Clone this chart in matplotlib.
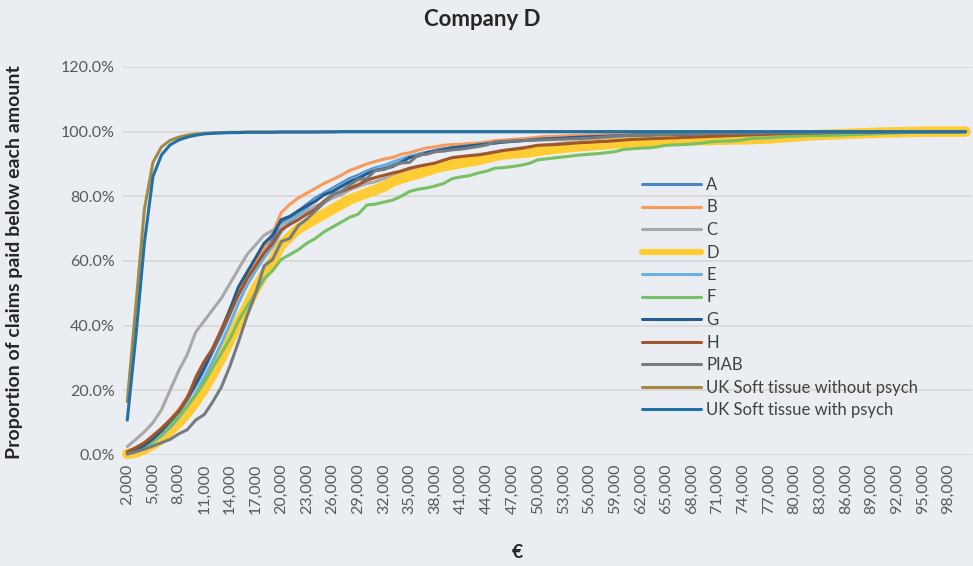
import matplotlib
matplotlib.use("Agg")
import matplotlib.pyplot as plt
from matplotlib.ticker import PercentFormatter

plt.rcParams['font.family'] = ['Lato', 'DejaVu Sans']

amounts = list(range(2000, 100001, 1000))
tick_labels = [f"{a:,}" for a in amounts]

A = [0.5, 1.3, 2.8, 4.8, 7.0, 10.0, 13.0, 17.0, 21.5, 26.5,
     32.0, 37.5, 43.5, 50.0, 55.0, 59.5, 64.0, 67.0, 72.0, 73.5,
     75.5, 77.5, 79.5, 81.0, 82.5, 84.0, 85.5, 86.5, 87.8, 88.8,
     89.5, 90.5, 91.5, 92.3, 93.0, 93.6, 94.2, 94.7, 95.1, 95.5,
     95.8, 96.1, 96.4, 96.7, 97.0, 97.2, 97.4, 97.6, 97.8, 98.0,
     98.1, 98.2, 98.3, 98.4, 98.5, 98.6, 98.7, 98.8, 98.9, 99.0,
     99.0, 99.1, 99.1, 99.2, 99.2, 99.3, 99.3, 99.4, 99.4, 99.5,
     99.5, 99.5, 99.6, 99.6, 99.6, 99.7, 99.7, 99.7, 99.8, 99.8,
     99.8, 99.8, 99.9, 99.9, 99.9, 99.9, 99.9, 99.9, 100, 100,
     100, 100, 100, 100, 100, 100, 100, 100, 100]

B = [0.8, 2.0, 3.5, 5.5, 8.0, 11.0, 14.0, 18.0, 22.5, 27.5,
     33.0, 39.0, 45.0, 50.5, 55.0, 59.5, 64.0, 68.5, 75.0, 77.5,
     79.5, 81.0, 82.5, 84.0, 85.2, 86.5, 88.0, 89.0, 90.0, 90.8,
     91.5, 92.0, 93.0, 93.5, 94.3, 95.0, 95.3, 95.8, 96.0, 96.1,
     96.3, 96.5, 96.8, 97.2, 97.4, 97.6, 97.8, 98.0, 98.3, 98.5,
     98.6, 98.7, 98.8, 98.9, 99.0, 99.0, 99.1, 99.2, 99.2, 99.3,
     99.3, 99.4, 99.4, 99.5, 99.5, 99.5, 99.6, 99.6, 99.6, 99.7,
     99.7, 99.7, 99.8, 99.8, 99.8, 99.8, 99.9, 99.9, 99.9, 99.9,
     99.9, 99.9, 99.9, 100, 100, 100, 100, 100, 100, 100,
     100, 100, 100, 100, 100, 100, 100, 100, 100]

C = [2.6, 4.8, 7.2, 10.0, 14.0, 20.0, 26.0, 31.0, 38.0, 41.5,
     45.0, 48.5, 53.0, 57.5, 62.0, 65.0, 68.0, 69.5, 71.0, 72.5,
     74.0, 75.5, 77.0, 78.0, 79.5, 80.5, 82.0, 83.0, 84.0, 84.5,
     85.5, 86.3, 87.0, 88.0, 88.7, 89.3, 89.8, 90.5, 91.2, 91.8,
     92.3, 92.8, 93.3, 93.8, 94.2, 94.6, 95.0, 95.3, 95.6, 95.9,
     96.2, 96.5, 96.7, 96.9, 97.1, 97.3, 97.5, 97.7, 97.8, 98.0,
     98.1, 98.2, 98.3, 98.4, 98.5, 98.6, 98.7, 98.8, 98.9, 99.0,
     99.0, 99.1, 99.2, 99.2, 99.3, 99.3, 99.4, 99.4, 99.5, 99.5,
     99.6, 99.6, 99.7, 99.7, 99.7, 99.8, 99.8, 99.8, 99.9, 99.9,
     99.9, 99.9, 100, 100, 100, 100, 100, 100, 100]

D = [0.3, 0.8, 1.8, 3.2, 5.0, 7.5, 10.0, 13.0, 16.5, 20.5,
     25.0, 30.0, 35.5, 41.0, 46.0, 51.5, 56.0, 60.0, 65.0, 67.5,
     70.0, 71.5, 73.0, 74.5, 76.0, 77.5, 79.0, 80.0, 81.0, 82.0,
     83.0, 84.5, 85.5, 86.3, 87.0, 87.8, 88.7, 89.3, 89.8, 90.3,
     90.7, 91.2, 91.8, 92.5, 93.0, 93.2, 93.4, 93.6, 94.0, 94.4,
     94.7, 95.0, 95.3, 95.5, 95.7, 95.9, 96.1, 96.3, 96.5, 96.7,
     96.8, 96.9, 97.0, 97.1, 97.2, 97.3, 97.3, 97.4, 97.4, 97.5,
     97.5, 97.6, 97.6, 97.7, 97.8, 97.9, 98.1, 98.3, 98.5, 98.7,
     98.9, 99.0, 99.1, 99.2, 99.3, 99.4, 99.5, 99.6, 99.7, 99.8,
     99.8, 99.9, 99.9, 100, 100, 100, 100, 100, 100]

E = [0.3, 1.0, 2.2, 4.0, 6.0, 8.5, 11.5, 15.0, 19.0, 24.0,
     29.0, 34.5, 40.5, 47.0, 52.5, 57.0, 61.0, 64.5, 69.0, 72.0,
     74.5, 76.5, 79.0, 80.5, 82.0, 83.5, 85.0, 86.0, 87.5, 88.5,
     89.5, 90.5, 91.5, 92.3, 93.0, 93.6, 94.0, 94.5, 94.9, 95.3,
     95.6, 95.9, 96.2, 96.5, 96.8, 97.0, 97.2, 97.4, 97.6, 97.8,
     97.9, 98.0, 98.1, 98.2, 98.3, 98.4, 98.5, 98.6, 98.7, 98.8,
     98.9, 99.0, 99.0, 99.1, 99.1, 99.2, 99.2, 99.3, 99.3, 99.4,
     99.4, 99.5, 99.5, 99.5, 99.6, 99.6, 99.6, 99.7, 99.7, 99.7,
     99.8, 99.8, 99.8, 99.8, 99.9, 99.9, 99.9, 99.9, 99.9, 100,
     100, 100, 100, 100, 100, 100, 100, 100, 100]

F = [0.5, 1.2, 2.5, 4.3, 6.5, 9.0, 12.0, 15.0, 18.5, 22.5,
     27.0, 31.5, 36.0, 41.5, 46.0, 50.0, 54.5, 57.0, 60.5, 62.0,
     63.5, 65.5, 67.0, 69.0, 70.5, 72.0, 73.5, 74.5, 77.3, 77.6,
     78.2, 78.8, 80.0, 81.5, 82.2, 82.6, 83.2, 84.0, 85.5, 86.0,
     86.4, 87.2, 87.8, 88.7, 88.9, 89.2, 89.6, 90.2, 91.3, 91.6,
     91.9, 92.2, 92.5, 92.8, 93.0, 93.2, 93.5, 93.8, 94.5, 94.7,
     94.9, 95.0, 95.3, 95.8, 95.9, 96.0, 96.2, 96.4, 96.8, 97.0,
     97.1, 97.2, 97.5, 97.9, 98.0, 98.1, 98.3, 98.5, 98.6, 98.7,
     98.8, 98.8, 98.9, 98.9, 99.0, 99.1, 99.2, 99.3, 99.4, 99.5,
     99.6, 99.7, 99.8, 99.8, 99.9, 99.9, 100, 100, 100]

G = [0.5, 1.5, 3.0, 5.0, 7.5, 10.5, 13.5, 17.5, 22.0, 27.0,
     33.0, 38.5, 45.0, 52.0, 56.5, 61.0, 65.5, 68.0, 72.8, 73.8,
     75.5, 77.0, 78.5, 80.5, 81.5, 83.0, 84.5, 85.5, 87.0, 88.0,
     88.5, 89.2, 90.5, 92.0, 92.5, 93.5, 94.0, 94.5, 95.0, 95.3,
     95.6, 95.9, 96.2, 96.5, 96.8, 97.0, 97.2, 97.4, 97.6, 97.8,
     97.9, 98.0, 98.2, 98.3, 98.4, 98.5, 98.6, 98.7, 98.8, 98.9,
     99.0, 99.0, 99.1, 99.1, 99.2, 99.2, 99.3, 99.3, 99.4, 99.4,
     99.5, 99.5, 99.5, 99.6, 99.6, 99.6, 99.7, 99.7, 99.7, 99.8,
     99.8, 99.8, 99.8, 99.9, 99.9, 99.9, 99.9, 99.9, 100, 100,
     100, 100, 100, 100, 100, 100, 100, 100, 100]

H = [1.0, 2.3, 3.8, 6.0, 8.3, 10.8, 13.5, 17.5, 24.0, 29.0,
     33.0, 38.5, 44.0, 49.5, 54.5, 58.5, 62.5, 65.5, 69.7, 71.3,
     72.8, 74.5, 76.0, 78.5, 80.5, 81.5, 82.5, 83.6, 85.0, 85.8,
     86.5, 87.2, 87.8, 88.7, 89.3, 89.8, 90.3, 91.2, 92.0, 92.3,
     92.6, 92.8, 93.2, 93.7, 94.2, 94.5, 94.8, 95.3, 95.8, 95.9,
     96.0, 96.2, 96.4, 96.6, 96.7, 96.9, 97.0, 97.2, 97.4, 97.6,
     97.7, 97.8, 97.9, 98.0, 98.1, 98.2, 98.3, 98.4, 98.5, 98.6,
     98.7, 98.8, 98.9, 99.0, 99.1, 99.2, 99.3, 99.4, 99.5, 99.5,
     99.6, 99.6, 99.7, 99.7, 99.8, 99.8, 99.8, 99.9, 99.9, 99.9,
     100, 100, 100, 100, 100, 100, 100, 100, 100]

PIAB = [0.3, 1.0, 1.8, 2.8, 3.8, 4.8, 6.5, 7.8, 10.8, 12.5,
        16.5, 21.0, 27.5, 35.0, 43.0, 50.0, 58.5, 60.5, 66.0, 67.0,
        71.0, 73.0, 75.5, 78.0, 80.5, 81.5, 83.5, 85.2, 85.5, 88.0,
        88.3, 89.5, 90.3, 90.5, 92.8, 93.0, 93.8, 94.0, 94.4, 94.6,
        95.0, 95.4, 95.9, 96.8, 97.0, 97.1, 97.2, 97.3, 97.4, 97.5,
        97.6, 97.7, 97.8, 97.9, 98.0, 98.2, 98.4, 98.6, 98.8, 98.9,
        99.0, 99.0, 99.1, 99.1, 99.2, 99.3, 99.3, 99.4, 99.4, 99.5,
        99.5, 99.5, 99.6, 99.6, 99.6, 99.7, 99.7, 99.7, 99.8, 99.8,
        99.8, 99.8, 99.9, 99.9, 99.9, 99.9, 99.9, 100, 100, 100,
        100, 100, 100, 100, 100, 100, 100, 100, 100]

UK_without = [16.5, 46.0, 76.0, 90.5, 95.3, 97.3, 98.3, 98.9, 99.3, 99.5,
              99.6, 99.7, 99.8, 99.8, 99.9, 99.9, 99.9, 99.9, 99.9, 99.9,
              99.9, 99.9, 99.9, 100, 100, 100, 100, 100, 100, 100,
              100, 100, 100, 100, 100, 100, 100, 100, 100, 100,
              100, 100, 100, 100, 100, 100, 100, 100, 100, 100,
              100, 100, 100, 100, 100, 100, 100, 100, 100, 100,
              100, 100, 100, 100, 100, 100, 100, 100, 100, 100,
              100, 100, 100, 100, 100, 100, 100, 100, 100, 100,
              100, 100, 100, 100, 100, 100, 100, 100, 100, 100,
              100, 100, 100, 100, 100, 100, 100, 100, 100]

UK_with = [10.8, 36.6, 65.6, 86.1, 92.8, 95.9, 97.4, 98.3, 98.9, 99.3,
           99.5, 99.6, 99.7, 99.7, 99.8, 99.8, 99.8, 99.8, 99.9, 99.9,
           99.9, 99.9, 99.9, 99.9, 99.9, 100, 100, 100, 100, 100,
           100, 100, 100, 100, 100, 100, 100, 100, 100, 100,
           100, 100, 100, 100, 100, 100, 100, 100, 100, 100,
           100, 100, 100, 100, 100, 100, 100, 100, 100, 100,
           100, 100, 100, 100, 100, 100, 100, 100, 100, 100,
           100, 100, 100, 100, 100, 100, 100, 100, 100, 100,
           100, 100, 100, 100, 100, 100, 100, 100, 100, 100,
           100, 100, 100, 100, 100, 100, 100, 100, 100]

series_names = ["A", "B", "C", "D", "E", "F", "G", "H", "PIAB",
                "UK Soft tissue without psych", "UK Soft tissue with psych"]
series_values = [A, B, C, D, E, F, G, H, PIAB, UK_without, UK_with]
colors = ["#4A86C5", "#F79A5B", "#A8A8A8", "#FFCC33", "#6AAFDF", "#77C063",
          "#245C8E", "#A0552A", "#767B7F", "#A38B45", "#2271A6"]
widths = [2.2, 2.2, 2.2, 7.5, 2.2, 2.2, 2.2, 2.2, 2.2, 2.2, 2.2]

BG = "#EAEDF2"
fig = plt.figure(figsize=(9.73, 5.66), dpi=100, facecolor=BG)
ax = fig.add_axes([123/973, 1 - 455/566, (972-123)/973, (455-67)/566])
ax.set_facecolor(BG)

x = list(range(len(amounts)))
handles = []
for name, vals, c, w in zip(series_names, series_values, colors, widths):
    ln, = ax.plot(x, [v / 100 for v in vals], color=c, lw=w, label=name,
                  solid_capstyle='round', solid_joinstyle='round', clip_on=False)
    handles.append(ln)

ax.set_ylim(0, 1.2)
ax.set_xlim(-0.5, 98.75)
ax.set_yticks([0, 0.2, 0.4, 0.6, 0.8, 1.0, 1.2])
ax.yaxis.set_major_formatter(PercentFormatter(1.0, decimals=1))
ax.set_xticks(x[::3])
ax.set_xticklabels(tick_labels[::3], rotation=90)
ax.tick_params(axis='both', length=0, labelsize=11.5, colors="#595959", pad=6)
ax.grid(axis='y', color="#D9D9D9", lw=1.3)
ax.set_axisbelow(True)
for s in ax.spines.values():
    s.set_visible(False)

fig.text(482/973, 1 - 19/566, "Company D", ha='center', va='center',
         fontsize=16, fontweight='bold', color="#262626")
fig.text(15/973, 1 - 262/566, "Proportion of claims paid below each amount",
         rotation=90, ha='center', va='center', fontsize=14,
         fontweight='bold', color="#262626")
fig.text(517/973, 1 - 552/566, "€", ha='center', va='center',
         fontsize=14, fontweight='bold', color="#262626")

leg = fig.legend(handles=handles, loc='upper left',
                 bbox_to_anchor=(642/973, 1 - 177/566), frameon=False,
                 fontsize=12, handlelength=3.54, handletextpad=0.3,
                 labelspacing=0.39, borderpad=0, borderaxespad=0)
for t in leg.get_texts():
    t.set_color("#404040")
for lh in leg.get_lines():
    lh.set_linewidth(2.2)
leg.get_lines()[3].set_linewidth(4.5)

fig.savefig("out.png", dpi=100, facecolor=BG)
